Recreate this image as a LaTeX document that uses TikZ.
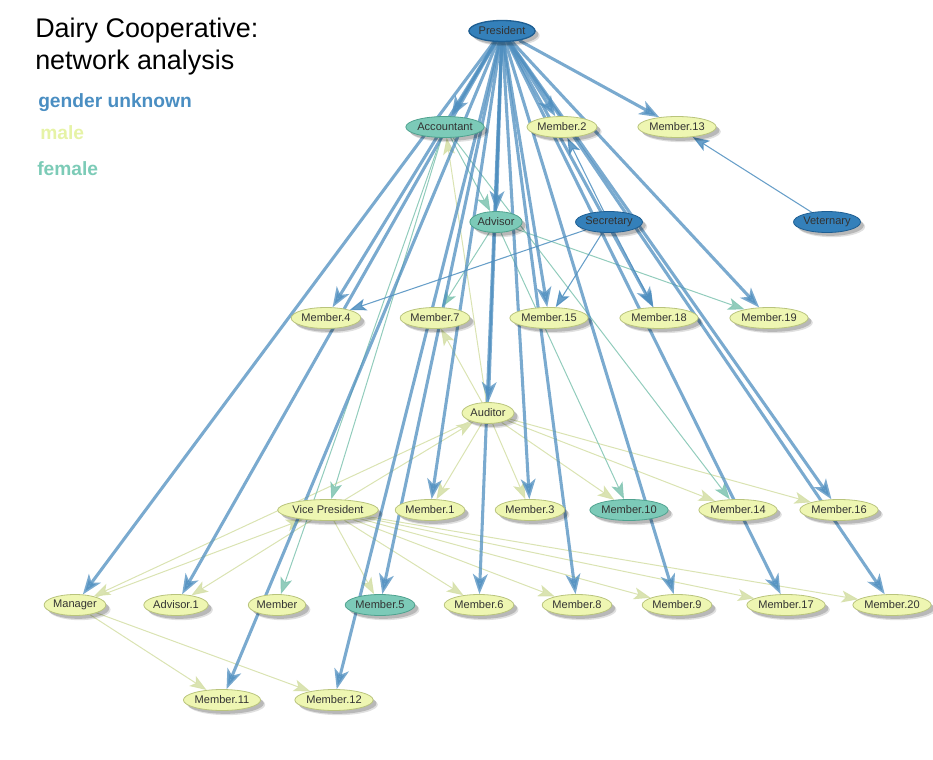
\documentclass[tikz,border=0pt]{standalone}
\usepackage{fontspec}
\setmainfont{Liberation Sans}
\usetikzlibrary{arrows.meta,shapes.geometric,shadows}
\definecolor{unkfill}{HTML}{3480BA}
\definecolor{unkdraw}{HTML}{1E5E92}
\definecolor{malefill}{HTML}{EEF6B2}
\definecolor{maledraw}{HTML}{B9C47C}
\definecolor{femfill}{HTML}{7CCAB8}
\definecolor{femdraw}{HTML}{4FA28F}
\definecolor{unkedge}{HTML}{4E8EBF}
\definecolor{femedge}{HTML}{86C7B5}
\definecolor{maleedge}{HTML}{D6E0AA}
\definecolor{legunk}{HTML}{4A8EC2}
\definecolor{legmale}{HTML}{E6F3A6}
\definecolor{legfem}{HTML}{7CCBB7}
\pgfdeclarelayer{bg}
\pgfsetlayers{bg,main}
\begin{document}
\begin{tikzpicture}[x=0.75pt,y=-0.75pt,
  nd/.style={ellipse, inner sep=0pt, minimum height=21*0.75pt,
    font=\fontsize{8.3}{9}\selectfont, text=black!80, line width=0.6pt,
    drop shadow={shadow xshift=3.5pt,shadow yshift=-3.5pt,opacity=0.12,fill=black},
    drop shadow={shadow xshift=2.5pt,shadow yshift=-2.5pt,opacity=0.18,fill=black}},
  w/.style={minimum width=#1*0.75pt},
  unk/.style={nd, fill=unkfill, draw=unkdraw},
  male/.style={nd, fill=malefill, draw=maledraw},
  fem/.style={nd, fill=femfill, draw=femdraw},
  pe/.style={draw=unkedge, line width=2.3pt, opacity=0.75,
    -{Stealth[length=15pt,width=11pt,inset=4pt]}},
  se/.style={draw=unkedge, line width=0.8pt, opacity=0.85,
    -{Stealth[length=12.5pt,width=9pt,inset=3pt]}},
  fe/.style={draw=femedge, line width=0.75pt, opacity=0.9,
    -{Stealth[length=12.5pt,width=9pt,inset=3pt]}},
  me/.style={draw=maleedge, line width=0.75pt, opacity=0.9,
    -{Stealth[length=12.5pt,width=9pt,inset=3pt]}},
  ttl/.style={anchor=base west, inner sep=0pt, font=\fontsize{20.2}{24}\selectfont},
  leg/.style={anchor=base west, inner sep=0pt, font=\fontsize{14.4}{17}\selectfont\bfseries}
]
\useasboundingbox (0,0) rectangle (933,760);

% title and legend
\node[ttl] (t1) at (35,37) {Dairy Cooperative:};
\node[ttl] (t2) at (35,69) {network analysis};
\node[leg, text=legunk] (l1) at (38,107) {gender unknown};
\node[leg, text=legmale] (l2) at (40,139) {male};
\node[leg, text=legfem] (l3) at (37,175) {female};

% nodes
\node[unk, w=64, minimum height=21*0.75pt, line width=1pt] (P) at (502,31) {President};
\node[fem, w=72] (acc) at (445,127) {Accountant};
\node[male, w=70] (m2) at (562,127) {Member.2};
\node[male, w=70] (m13) at (677,127) {Member.13};
\node[fem, w=52] (adv) at (496,222) {Advisor};
\node[unk, w=62] (sec) at (609,222) {Secretary};
\node[unk, w=62] (vet) at (827,222) {Veternary};
\node[male, w=67] (m4) at (326,318) {Member.4};
\node[male, w=66] (m7) at (435,318) {Member.7};
\node[male, w=70] (m15) at (549,318) {Member.15};
\node[male, w=70] (m18) at (659,318) {Member.18};
\node[male, w=70] (m19) at (769,318) {Member.19};
\node[male, w=52] (aud) at (488,413) {Auditor};
\node[male, w=83] (vp) at (328,510) {Vice President};
\node[male, w=64] (m1) at (430,510) {Member.1};
\node[male, w=64] (m3) at (530,510) {Member.3};
\node[fem, w=70] (m10) at (629,510) {Member.10};
\node[male, w=70] (m14) at (738,510) {Member.14};
\node[male, w=70] (m16) at (839,510) {Member.16};
\node[male, w=60] (man) at (75,605) {Manager};
\node[male, w=59] (adv1) at (176,605) {Advisor.1};
\node[male, w=56] (mem) at (277,605) {Member};
\node[fem, w=66] (m5) at (380,605) {Member.5};
\node[male, w=66] (m6) at (479,605) {Member.6};
\node[male, w=64] (m8) at (577,605) {Member.8};
\node[male, w=64] (m9) at (677,605) {Member.9};
\node[male, w=70] (m17) at (786,605) {Member.17};
\node[male, w=70] (m20) at (892,605) {Member.20};
\node[male, w=70] (m11) at (222,700) {Member.11};
\node[male, w=70] (m12) at (334,700) {Member.12};

\begin{pgfonlayer}{bg}
% male edges
\draw[me] (aud) -- (acc);
\draw[me] (aud) -- (m7);
\draw[me] (aud) -- (m1);
\draw[me] (aud) -- (m3);
\draw[me] (aud) -- (m10);
\draw[me] (aud) -- (m14);
\draw[me] (aud) -- (m16);
\draw[me] (aud) -- (man);
\draw[me] (vp) -- (aud);
\draw[me] (vp) -- (adv1);
\draw[me] (vp) -- (m5);
\draw[me] (vp) -- (m6);
\draw[me] (vp) -- (m8);
\draw[me] (vp) -- (m9);
\draw[me] (vp) -- (m17);
\draw[me] (vp) -- (m20);
\draw[me] (man) -- (vp);
\draw[me] (man) -- (m11);
\draw[me] (man) -- (m12);
% female edges
\draw[fe] (acc) -- (adv);
\draw[fe] (acc) -- (vp);
\draw[fe] (acc) -- (mem);
\draw[fe] (acc) -- (m14);
\draw[fe] (adv) -- (m7);
\draw[fe] (adv) -- (m19);
\draw[fe] (adv) -- (m10);
% secretary / veternary edges
\draw[se] (sec) -- (m4);
\draw[se] (sec) -- (m15);
\draw[se] (sec) -- (m18);
\draw[se] (sec) -- (m2);
\draw[se] (vet) -- (m13);
% president edges
\foreach \t in {acc,m2,m13,adv,aud,m4,m15,m18,m19,m16,m20,m17,m9,m8,m3,m1,m6,m5,m12,m11,adv1,man}
  \draw[pe] (P) -- (\t);
\end{pgfonlayer}
\end{tikzpicture}
\end{document}
